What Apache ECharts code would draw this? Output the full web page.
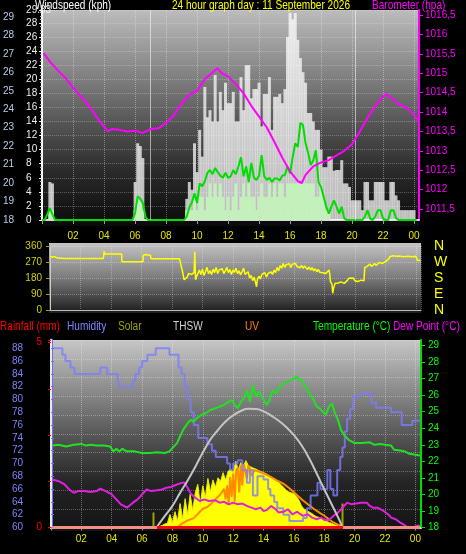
<!DOCTYPE html>
<html><head><meta charset="utf-8">
<script src="https://cdn.jsdelivr.net/npm/echarts@6/dist/echarts.min.js"></script>
<style>html,body{margin:0;padding:0;background:#000;overflow:hidden}#c{width:466px;height:554px}</style>
</head><body><div id="c"></div>
<script>
// ---------- DATA ----------
// Wind (10-minute samples, index i -> hour i/6), kph
const windGust = [
 0,0,0,5.4,5.2,0,  0,0,0,0,0,0,  0,0,0,0,0,0,  0,0,0,0,0,0,  0,0,0,0,0,0,  0,0,0,0,0,0,
 5.4,10.9,10.5,8.8,0,0,  0,0,0,0,0,0,  0,0,0,0,0,0,
 0,0,3.0,5.4,4.3,10.9,
 6.8,12.8,9.0,18.9,14.6,15.6,
 14.0,20.6,14.0,18.2,15.6,19.5,
 16.6,16.6,18.2,14.0,14.0,20.3,
 15.6,22.0,22.0,17.3,18.6,18.6,
 19.5,13.3,17.9,17.9,20.3,12.8,
 17.5,17.5,17.9,16.6,18.6,26.0,
 29.4,28.5,29.4,25.6,23.0,21.0,
 19.5,15.2,15.2,14.0,12.8,12.8,
 10.0,7.5,7.5,9.0,9.0,7.0,
 7.1,7.1,8.5,5.2,5.2,4.7,
 2.8,2.8,2.8,2.8,1.4,5.4,
 5.4,2.8,2.8,5.4,5.4,5.4,
 5.4,2.8,2.8,5.4,5.4,3.5,
 2.8,1.4,1.4,1.4,1.4,1.4,
 1.4,0
];
const windBar = [
 0,0,0,1.4,1.4,0,  0,0,0,0,0,0,  0,0,0,0,0,0,  0,0,0,0,0,0,  0,0,0,0,0,0,  0,0,0,0,0,0,
 1.4,2.8,2.8,1.4,0,0,  0,0,0,0,0,0,  0,0,0,0,0,0,
 0,0,1.4,1.4,1.4,3.3,
 1.4,3.3,3.3,1.4,3.3,5.2,
 3.3,5.2,3.3,5.2,3.3,1.4,
 3.3,1.4,3.3,5.2,1.4,3.3,
 5.2,3.3,5.2,3.3,3.3,1.4,
 3.3,5.2,3.3,3.3,5.2,3.3,
 5.2,3.3,5.2,5.2,3.3,5.2,
 5.2,5.2,5.2,5.2,5.2,5.2,
 5.2,5.2,5.2,5.2,3.3,3.3,
 5.2,3.3,1.4,1.4,0,0,
 0,0,0,0,0,0,  0,0,0,0,0,0,  0,0,0,0,0,0,  0,0,0,0,0,0,  0,0,0,0,0,0,
 0,0
];
const windAvg = [
 0,0,0.8,1.7,0.8,0,  0,0,0,0,0,0,  0,0,0,0,0,0,  0,0,0,0,0,0,  0,0,0,0,0,0,  0,0,0,0,0,0,
 1.0,3.4,3.0,2.4,0.5,0,  0,0,0,0,0,0,  0,0,0,0,0,0,
 0,0,0.5,1.8,2.5,3.8,
 2.4,5.2,4.8,5.5,6.7,7.1,
 6.5,7.4,6.8,6.3,6.0,6.7,
 6.0,6.2,7.1,6.5,7.6,8.9,
 6.2,7.6,5.4,8.1,6.0,5.7,
 6.3,9.2,6.2,5.7,6.0,5.4,
 5.9,5.9,5.6,6.3,6.4,7.6,
 6.6,8.9,10.9,10.4,13.8,13.5,
 10.9,9.5,7.8,8.5,9.9,5.4,
 4.7,3.3,1.9,0.9,1.9,2.8,
 1.9,0.9,1.9,0.2,0,0,
 0,0,0,0,0,0.5,
 1.4,0.2,0,0.5,1.4,1.4,
 0.2,0,0,1.4,1.4,0.3,
 0,0,0,0,0,0,
 0,0
];
// Light vertical marker lines in the wind panel (hours)
const windMarkerHours = [6.97, 20.2];
// Barometer (hPa)
const baroHours  = [0.1,0.5,1.0,1.5,2.0,2.5,3.0,3.5,4.0,4.25,4.5,5.0,5.5,6.0,6.5,7.0,7.5,8.0,8.5,9.0,9.5,10.0,10.5,11.0,11.3,11.6,12.0,12.5,13.0,13.5,14.0,14.5,15.0,15.5,16.0,16.5,16.75,17.0,17.5,18.0,18.5,19.0,19.5,20.0,20.5,21.0,21.5,22.0,22.2,22.5,23.0,23.5,24.0,24.3];
const baroValues = [1015.52,1015.3,1015.08,1014.88,1014.63,1014.4,1014.18,1013.88,1013.62,1013.5,1013.56,1013.54,1013.5,1013.52,1013.46,1013.56,1013.58,1013.72,1013.92,1014.22,1014.44,1014.55,1014.85,1015.02,1015.13,1015.0,1014.92,1014.72,1014.48,1014.16,1013.88,1013.6,1013.22,1012.82,1012.47,1012.22,1012.17,1012.38,1012.6,1012.7,1012.76,1012.88,1013.0,1013.17,1013.5,1013.85,1014.15,1014.4,1014.46,1014.38,1014.2,1014.12,1013.92,1013.77];
const baroTicks = [1011.5,1012,1012.5,1013,1013.5,1014,1014.5,1015,1015.5,1016,1016.5];
// Wind direction (degrees)
const dirHours  = [0,0.3,0.5,1,2,3,3.5,3.55,3.6,4.7,4.72,6.1,6.12,6.3,6.6,6.62,8.5,8.6,8.7,8.8,8.9,9.0,9.1,9.3,9.45,9.5,9.55,9.65,9.8,9.9,10.0,10.1,10.2,10.3,10.4,10.5,10.6,10.7,10.8,10.9,11.0,11.1,11.2,11.3,11.4,11.5,11.6,11.7,11.8,11.9,12.0,12.1,12.2,12.3,12.4,12.5,12.6,12.7,12.8,12.9,13.0,13.1,13.2,13.3,13.4,13.5,13.55,13.6,13.7,13.8,13.9,14.0,14.1,14.2,14.3,14.4,14.5,14.6,14.7,14.8,14.9,15.0,15.1,15.2,15.3,15.4,15.5,15.6,15.7,15.8,15.9,16.0,16.1,16.2,16.3,16.4,16.5,16.6,16.7,16.8,16.9,17.0,17.1,17.2,17.3,17.4,17.5,17.6,17.7,17.8,17.9,18.0,18.1,18.2,18.3,18.35,18.4,18.5,18.55,18.6,18.7,18.9,19.1,19.3,19.5,19.6,19.7,19.9,20.0,20.2,20.4,20.5,20.6,20.65,20.8,21.0,21.1,21.3,21.4,21.6,21.8,22.0,22.1,22.2,22.3,22.5,22.7,22.9,23.2,23.5,23.8,24.0,24.1,24.3];
const dirValues = [298,300,292,290,290,290,290,330,315,315,272,272,308,312,306,288,288,250,215,170,168,185,206,200,210,328,170,195,225,200,230,195,215,240,205,222,200,230,210,240,205,225,215,232,205,220,240,210,228,200,225,212,235,205,220,198,215,235,200,190,215,180,195,165,185,150,131,170,190,175,200,190,210,185,205,195,215,200,225,210,240,220,250,235,262,240,255,245,260,240,258,250,262,245,255,238,250,235,248,240,228,242,225,238,220,232,215,228,212,222,210,218,205,212,225,205,160,145,94,120,150,152,158,150,165,178,172,180,165,160,168,162,165,240,245,258,245,262,250,268,262,272,265,285,300,305,302,304,300,302,300,302,280,278];
const compassLabels = {0:'N',90:'E',180:'S',270:'W',360:'N'};
// Humidity (%)
const humHours  = [0.1,0.75,0.95,1.28,1.54,3.25,3.7,4.4,4.5,5.4,5.56,5.8,6.0,6.35,6.9,7.8,8.4,8.6,8.8,9.0,9.2,9.4,9.7,10.3,10.6,10.85,11.6,11.8,12.0,12.3,12.6,12.9,13.1,13.3,13.6,14.0,14.3,14.45,14.7,14.9,15.3,15.7,16.6,16.85,17.1,17.55,17.75,18.2,18.4,18.6,18.85,19.05,19.2,19.35,19.5,19.7,19.9,20.45,20.9,21.1,21.4,22.4,23.1,23.8,24.3];
const humValues = [88,87,86,85,84,85,84,83,82,83,84,85,86,87,88,87,85,84,82,80,78,76,74,73,72,71,70,69,70,70.5,69,67,69,65,68,67.5,66,65,64,63,62,61,61.5,63,65,67,66,69,66,65,69,71,72.5,75,77,78.5,80.5,81,81,79.5,78.7,78,76,76.7,76.7];
// Temperature (°C)
const tempHours  = [0.1,0.5,1.0,1.5,2.0,2.3,2.6,3.0,3.5,3.9,4.1,4.3,4.5,4.7,5.0,5.5,6.0,6.5,7.0,7.5,7.8,8.1,8.3,8.5,8.7,9.0,9.2,9.4,9.6,9.9,10.2,10.5,10.8,11.1,11.4,11.6,11.9,12.1,12.3,12.5,12.7,12.9,13.1,13.3,13.5,13.7,13.9,14.2,14.4,14.6,14.8,15.1,15.3,15.5,15.8,16.0,16.15,16.3,16.5,16.7,16.9,17.1,17.3,17.5,17.7,17.9,18.1,18.3,18.5,18.7,18.9,19.1,19.3,19.6,20.0,20.5,21.0,21.3,21.7,22.0,22.4,22.6,23.0,23.3,23.6,24.0,24.3];
const tempValues = [22.95,23.0,22.9,23.0,23.05,22.95,23.0,22.95,22.95,22.9,22.6,22.75,22.6,22.75,22.6,22.6,22.5,22.5,22.55,22.5,22.6,22.9,23.1,23.5,23.9,24.3,24.5,24.4,24.6,24.8,24.9,25.1,25.2,25.3,25.4,25.55,25.7,25.4,25.2,25.6,25.8,26.3,25.6,26.6,25.9,26.2,25.9,25.4,25.7,26.3,26.1,26.5,26.7,26.8,26.9,27.0,27.15,27.0,26.9,26.6,26.3,26.0,25.7,25.3,25.2,25.0,24.8,25.3,25.5,24.9,24.5,23.9,23.6,23.3,23.1,23.1,23.15,23.0,23.05,23.0,22.95,22.7,22.65,22.6,22.45,22.4,22.35];
// Dew point (°C)
const dewHours  = [0.1,0.5,0.9,1.2,1.5,1.8,2.2,2.6,3.0,3.25,3.6,4.0,4.3,4.6,4.8,5.0,5.2,5.4,5.7,5.9,6.1,6.3,6.6,7.0,7.3,7.6,7.9,8.3,8.6,8.8,9.0,9.2,9.5,9.8,10.1,10.4,10.8,11.1,11.4,11.7,12.0,12.3,12.6,12.9,13.2,13.5,13.8,14.0,14.2,14.5,14.8,15.0,15.3,15.6,15.9,16.2,16.6,16.9,17.2,17.5,17.8,18.0,18.3,18.6,18.9,19.1,19.3,19.5,19.8,20.1,20.4,20.8,21.0,21.2,21.5,21.9,22.2,22.4,22.7,23.0,23.2,23.5,23.8,24.1,24.3];
const dewValues = [20.9,20.8,20.6,20.3,20.1,20.2,20.2,20.15,20.2,20.35,20.2,20.0,19.7,19.4,19.3,19.2,19.35,19.5,19.7,19.9,20.1,20.3,20.2,20.25,20.3,20.4,20.45,20.6,20.7,20.7,20.4,20.05,19.8,19.6,19.7,19.6,19.65,19.5,19.55,19.4,19.5,19.4,19.45,19.3,19.2,19.1,19.2,19.0,19.05,19.3,19.1,18.9,18.95,19.1,18.8,18.95,18.7,18.8,18.6,18.5,18.6,18.45,18.45,18.7,18.9,19.1,19.3,19.5,19.4,19.45,19.5,19.5,19.3,19.2,19.2,19.0,18.8,18.6,18.5,18.3,18.2,18.0,18.0,18.1,18.1];
// Solar radiation (W/m², 10-minute samples from 06:40)
const solarStartHour = 6 + 40/60;
const solarValues = [0,0,0,8,15,25,30,90,35,110,45,166,60,200,90,230,120,240,300,160,290,210,340,250,330,280,345,320,380,330,390,405,380,460,400,450,420,464,430,420,412,405,395,388,381,372,362,350,338,322,312,295,278,258,246,240,236,215,190,150,128,118,108,98,85,75,70,60,52,42,35,28,20,14,9,5,0];
// Theoretical maximum solar (W/m²)
const solarMaxHours  = [6.95,7.5,8.0,8.5,9.0,9.5,10.0,10.5,11.0,11.5,12.0,12.5,13.0,13.5,14.0,14.5,15.0,15.5,16.0,16.5,17.0,17.5,18.0,18.5,19.0,19.2];
const solarMaxValues = [0,80,150,240,326,420,520,610,676,735,778,808,823,822,805,775,740,695,640,570,480,374,265,158,50,0];
// UV index
const uvHours  = [8.3,8.6,9.0,9.4,9.7,10.0,10.3,10.6,10.9,11.2,11.4,11.5,11.6,11.7,11.8,11.9,12.0,12.1,12.2,12.3,12.4,12.5,12.6,12.7,12.8,12.9,13.0,13.1,13.2,13.4,13.8,14.2,14.5,14.9,15.3,15.7,16.0,16.3,16.6,17.0,17.3,17.7,18.0,18.3,18.6,18.9,19.1,19.3];
const uvValues = [0,0.3,0.6,0.8,1.2,1.6,1.75,2.1,2.5,2.9,3.3,2.4,3.6,2.0,4.3,2.6,4.6,2.2,4.9,5.1,3.0,5.3,3.6,5.4,5.5,4.2,5.3,5.0,4.4,4.9,4.7,4.5,4.3,4.0,3.75,3.35,3.0,2.65,2.3,1.9,1.6,1.25,1.0,0.7,0.43,0.25,0.15,0];
// Rainfall (mm)
const rainHours  = [0.1,24.3];
const rainValues = [0,0];
// Sunrise / sunset markers (hours)
const sunHours = [6.75,19.2];
const sunMarkValues = [104,166];

// ---------- HELPERS ----------
const zip = (a, b) => a.map((x, i) => [x, b[i]]);
const tenMin = arr => arr.map((v, i) => [i / 6, v]);
const solarData = solarValues.map((v, i) => [solarStartHour + i / 6, v]);
const FONT = "'Liberation Sans', Arial, sans-serif";
const hourFmt = v => v === 0 ? '' : String(v % 24).padStart(2, '0');
const baroFmt = v => String(v).replace('.', ',');
const dots = c => ({show: true, lineStyle: {type: 'dotted', color: c, width: 1}});
const grad = stops => new echarts.graphic.LinearGradient(0, 0, 0, 1, stops.map((c, i) => ({offset: i / (stops.length - 1), color: c})));

const chart = echarts.init(document.getElementById('c'), null, {renderer: 'canvas'});
const txt = (x, y, t, c) => ({type: 'text', x, y, scaleX: 0.84, style: {text: t, fill: c, font: '12px ' + FONT, textVerticalAlign: 'middle'}, z: 10});

chart.setOption({
  backgroundColor: '#000',
  animation: false,
  textStyle: {fontFamily: FONT},
  graphic: [
    {type: 'rect', shape: {x: 43, y: 10, width: 376, height: 216}, style: {fill: grad(['#bcbcbc', '#8c8c8c', '#5a5a5a', '#2a2a2a', '#0a0a0a'])}, z: -10},
    {type: 'rect', shape: {x: 49, y: 243, width: 372, height: 70}, style: {fill: grad(['#c4c4c4', '#7a7a7a', '#1c1c1c'])}, z: -10},
    {type: 'rect', shape: {x: 50, y: 340, width: 371, height: 191}, style: {fill: grad(['#c6c6c6', '#8e8e8e', '#565656', '#242424', '#141414'])}, z: -10},
    txt(35, 6, 'Windspeed (kph)', '#ffffff'),
    txt(172, 6, '24 hour graph day : 11 September 2026', '#ffff00'),
    txt(372, 6, 'Barometer (hpa)', '#ff00ff'),
    txt(0, 327, 'Rainfall (mm)', '#ff0000'),
    txt(67, 327, 'Humidity', '#8080ff'),
    txt(118, 327, 'Solar', '#a0a000'),
    txt(173, 327, 'THSW', '#d0d0d0'),
    txt(245, 327, 'UV', '#ff8000'),
    txt(313, 327, 'Temperature (°C)', '#00ff00'),
    txt(393, 327, 'Dew Point (°C)', '#ff00ff')
  ],
  grid: [
    {left: 42, right: 47, top: 10, height: 210},
    {left: 50, right: 45, top: 246, height: 64},
    {left: 51, right: 45, top: 340, height: 187.5}
  ],
  xAxis: [
    {gridIndex: 0, type: 'value', min: 0, max: 24.32, interval: 2,
     axisLine: {lineStyle: {color: '#d8d8d8', width: 2}}, axisTick: {length: 4, lineStyle: {color: '#999'}},
     axisLabel: {formatter: hourFmt, color: '#e6e600', fontSize: 10, margin: 11},
     splitLine: dots('rgba(255,255,255,0.35)')},
    {gridIndex: 1, type: 'value', min: 0, max: 24.34, interval: 2, offset: 2,
     axisLine: {lineStyle: {color: '#bbbbbb', width: 1}}, axisTick: {show: false}, axisLabel: {show: false},
     splitLine: dots('rgba(255,255,255,0.3)')},
    {gridIndex: 2, type: 'value', min: 0, max: 24.37, interval: 2, offset: 3,
     axisLine: {lineStyle: {color: '#e0e0e0', width: 2}}, axisTick: {length: 3, lineStyle: {color: '#999'}},
     axisLabel: {formatter: hourFmt, color: '#e6e600', fontSize: 10, margin: 4},
     splitLine: dots('rgba(255,255,255,0.35)')}
  ],
  yAxis: [
    {gridIndex: 0, type: 'value', position: 'left', offset: 20, min: 0, max: 29.83, interval: 2,
     axisLine: {show: true, lineStyle: {color: '#ffffff', width: 2}},
     axisTick: {show: true, length: 3, lineStyle: {color: '#ffffff'}},
     minorTick: {show: true, splitNumber: 4, length: 2, lineStyle: {color: '#cccccc'}},
     axisLabel: {inside: true, color: '#eeeeee', fontSize: 10, margin: 4},
     splitLine: dots('rgba(255,255,255,0.28)')},
    {gridIndex: 0, type: 'value', position: 'left', offset: 25, min: 18, max: 29.38, interval: 1,
     axisLine: {show: false}, axisTick: {show: false}, splitLine: {show: false},
     axisLabel: {color: '#b8cce8', fontSize: 10, margin: 3}},
    {gridIndex: 0, type: 'value', position: 'right', min: 1011.2165, max: 1016.63,
     axisLine: {show: true, lineStyle: {color: '#ff00ff', width: 2}},
     axisTick: {show: true, length: 4, customValues: baroTicks, lineStyle: {color: '#ff00ff'}},
     axisLabel: {customValues: baroTicks, formatter: baroFmt, color: '#ff00ff', fontSize: 10, margin: 6},
     splitLine: {show: false}},
    {gridIndex: 1, type: 'value', position: 'left', min: 0, max: 360, interval: 90,
     axisLine: {show: true, lineStyle: {color: '#cccccc', width: 1}},
     axisTick: {show: true, length: 4, lineStyle: {color: '#a0a000'}},
     axisLabel: {color: '#d0d000', fontSize: 10, margin: 8},
     splitLine: dots('rgba(255,255,255,0.3)')},
    {gridIndex: 1, type: 'value', position: 'right', min: 0, max: 360, interval: 90,
     axisLine: {show: false}, axisTick: {show: false}, splitLine: {show: false},
     axisLabel: {formatter: v => compassLabels[v] || '', color: '#ffff00', fontSize: 14, margin: 13}},
    {gridIndex: 2, type: 'value', position: 'left', offset: 21, min: 60, max: 89.3, interval: 2,
     axisLine: {show: true, lineStyle: {color: '#7070e8', width: 3}},
     axisTick: {show: true, inside: true, length: 3, lineStyle: {color: '#7070e8'}},
     axisLabel: {color: '#8080ff', fontSize: 10, margin: 7},
     splitLine: {show: false}},
    {gridIndex: 2, type: 'value', position: 'left', min: 0, max: 5.07, interval: 1.25,
     axisLine: {show: true, lineStyle: {color: '#e8e8e8', width: 2}},
     axisTick: {show: true, length: 3, lineStyle: {color: '#ff0000'}},
     axisLabel: {formatter: v => (v === 0 || v === 5) ? String(v) : '', color: '#ff0000', fontSize: 10, margin: 9},
     splitLine: {show: false}},
    {gridIndex: 2, type: 'value', position: 'right', min: 18, max: 29.33, interval: 1,
     axisLine: {show: true, lineStyle: {color: '#00dd00', width: 2}},
     axisTick: {show: true, length: 4, lineStyle: {color: '#00dd00'}},
     axisLabel: {color: '#00ff00', fontSize: 10, margin: 7},
     splitLine: {show: false}},
    {gridIndex: 2, type: 'value', show: false, min: 0, max: 1300, splitLine: {show: false}},
    {gridIndex: 2, type: 'value', show: false, min: 0, max: 16, splitLine: {show: false}},
    {gridIndex: 2, type: 'value', min: 0, max: 10, interval: 1, axisLine: {show: false}, axisTick: {show: false}, axisLabel: {show: false},
     splitLine: dots('rgba(255,255,255,0.3)')}
  ],
  visualMap: [{show: false, type: 'piecewise', seriesIndex: 12, dimension: 0,
    pieces: [{lt: 6.95, color: '#f09080'}, {gte: 6.95, lte: 19.2, color: '#ff0000'}, {gt: 19.2, color: '#f09080'}]}],
  series: [
    {type: 'bar', xAxisIndex: 0, yAxisIndex: 0, data: tenMin(windGust), barWidth: 3, barGap: '-100%',
     itemStyle: {color: 'rgba(255,255,255,0.72)'}, z: 2,
     markLine: {silent: true, symbol: 'none', label: {show: false},
       lineStyle: {color: 'rgba(255,255,255,0.55)', type: 'solid', width: 1},
       data: windMarkerHours.map(h => ({xAxis: h}))}},
    {type: 'bar', xAxisIndex: 0, yAxisIndex: 0, data: tenMin(windBar), barWidth: 3, barGap: '-100%',
     itemStyle: {color: '#c4f0bc'}, z: 3},
    {type: 'line', xAxisIndex: 0, yAxisIndex: 0, data: tenMin(windAvg), symbol: 'none',
     lineStyle: {color: '#00dd00', width: 2}, z: 4},
    {type: 'line', xAxisIndex: 0, yAxisIndex: 2, data: zip(baroHours, baroValues), symbol: 'none',
     lineStyle: {color: '#ff00ff', width: 2}, z: 5},
    {type: 'line', xAxisIndex: 1, yAxisIndex: 3, data: zip(dirHours, dirValues), symbol: 'none',
     lineStyle: {color: '#ffff00', width: 1.5}, z: 4},
    {type: 'line', xAxisIndex: 2, yAxisIndex: 8, data: solarData, symbol: 'none',
     lineStyle: {color: '#e8e800', width: 1}, areaStyle: {color: '#ffff00', opacity: 1}, z: 2},
    {type: 'bar', xAxisIndex: 2, yAxisIndex: 8, data: zip(sunHours, sunMarkValues), barWidth: 2,
     itemStyle: {color: '#a0a000'}, z: 2},
    {type: 'line', xAxisIndex: 2, yAxisIndex: 9, data: zip(uvHours, uvValues), symbol: 'none',
     lineStyle: {color: '#ff8c00', width: 2}, z: 3},
    {type: 'line', xAxisIndex: 2, yAxisIndex: 5, data: zip(humHours, humValues), symbol: 'none', step: 'end',
     lineStyle: {color: '#7c7cff', width: 2, opacity: 0.8}, z: 4},
    {type: 'line', xAxisIndex: 2, yAxisIndex: 7, data: zip(tempHours, tempValues), symbol: 'none',
     lineStyle: {color: '#22e022', width: 2}, z: 4},
    {type: 'line', xAxisIndex: 2, yAxisIndex: 7, data: zip(dewHours, dewValues), symbol: 'none',
     lineStyle: {color: '#e020e0', width: 2}, z: 4},
    {type: 'line', xAxisIndex: 2, yAxisIndex: 8, data: zip(solarMaxHours, solarMaxValues), symbol: 'none', smooth: true,
     lineStyle: {color: '#c4c4c4', width: 2}, z: 5},
    {type: 'line', xAxisIndex: 2, yAxisIndex: 6, data: zip(rainHours, rainValues), symbol: 'none',
     lineStyle: {width: 3}, z: 6}
  ]
});
</script></body></html>
